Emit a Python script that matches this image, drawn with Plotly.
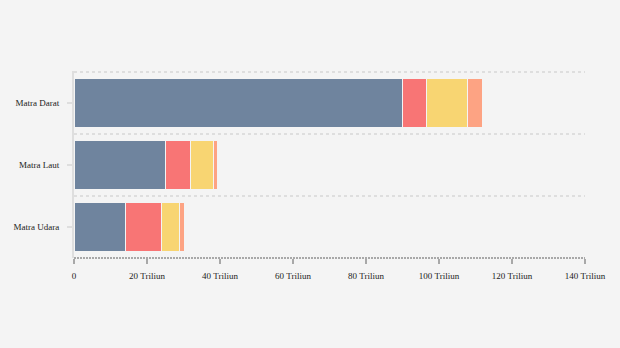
import plotly.graph_objects as go

categories = ["Matra Darat", "Matra Laut", "Matra Udara"]
series_names = ["Seri 1", "Seri 2", "Seri 3", "Seri 4"]
series_values = [
    [89.9, 25.2, 14.0],
    [6.8, 6.6, 10.1],
    [11.2, 6.3, 4.9],
    [4.1, 1.1, 1.4],
]
series_colors = ["#6f849e", "#f87575", "#f8d572", "#fda383"]
x_tick_vals = [0, 20, 40, 60, 80, 100, 120, 140]
x_tick_text = ["0", "20 Triliun", "40 Triliun", "60 Triliun", "80 Triliun",
               "100 Triliun", "120 Triliun", "140 Triliun"]

fig = go.Figure()
for name, vals, col in zip(series_names, series_values, series_colors):
    fig.add_trace(go.Bar(
        y=categories, x=vals, name=name, orientation="h",
        marker=dict(color=col, line=dict(color="#f4f4f4", width=1)),
        width=0.8,
    ))

shapes = []
for b in [-0.5, 0.5, 1.5]:
    shapes.append(dict(type="line", xref="paper", yref="y", x0=0, x1=1, y0=b, y1=b,
                       line=dict(color="#dedede", width=2, dash="3px,3px"), layer="below"))
shapes.append(dict(type="line", xref="paper", yref="paper", x0=0, x1=1, y0=0, y1=0,
                   line=dict(color="#a8a8a8", width=2, dash="2px,1px")))

fig.update_layout(
    barmode="stack",
    width=620, height=348,
    paper_bgcolor="#f4f4f4", plot_bgcolor="#f4f4f4",
    margin=dict(l=74, r=35, t=71, b=90),
    showlegend=False,
    font=dict(family="Liberation Serif", size=10, color="#222"),
    shapes=shapes,
    bargap=0.2,
)
fig.update_xaxes(range=[0, 140], tickvals=x_tick_vals, ticktext=x_tick_text,
                 showgrid=False, zeroline=False, showline=False,
                 ticks="outside", ticklen=5, tickcolor="#a8a8a8", tickwidth=2,
                 ticklabelstandoff=4,
                 tickfont=dict(size=9))
fig.update_yaxes(categoryorder="array", categoryarray=categories, autorange="reversed",
                 showgrid=False, zeroline=False, showline=True, linecolor="#dedede", linewidth=2,
                 ticks="outside", ticklen=5, tickcolor="#dedede", tickwidth=2,
                 ticklabelstandoff=6,
                 tickfont=dict(size=9))

fig.write_html("out.html")
